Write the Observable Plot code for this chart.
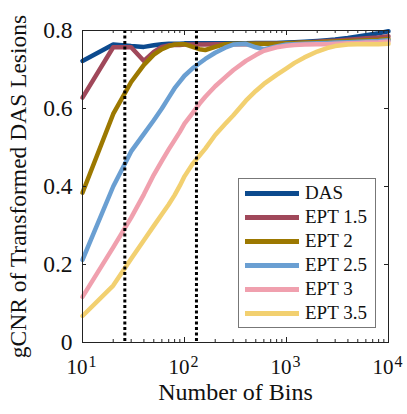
<!DOCTYPE html>
<html>
<head>
<meta charset="utf-8">
<script src="https://cdn.jsdelivr.net/npm/d3@7"></script>
<script src="https://cdn.jsdelivr.net/npm/@observablehq/plot@0.6"></script>
<style>
  html, body { margin: 0; padding: 0; background: white; }
  #wrap { position: relative; width: 407px; height: 414px; font-family: "Liberation Serif", "Times New Roman", Times, serif; }
  #wrap svg text { font-family: "Liberation Serif", "Times New Roman", Times, serif; }
  #legend { position: absolute; left: 238px; top: 178px; width: 138px; box-sizing: border-box; border: 1px solid #777; background: white; padding: 2px 0; }
  .row { height: 24px; display: flex; align-items: center; }
  .sw { width: 54px; height: 5px; margin-left: 6px; margin-right: 6px; }
  .lab { font-size: 19px; line-height: 24px; color: #111; white-space: nowrap; font-family: "Liberation Serif", "Times New Roman", Times, serif; }
</style>
</head>
<body>
<div id="wrap"><div id="legend"></div></div>
<script>
const bins = [10,20,30,40,50,60,70,80,90,100,120,140,160,200,250,300,400,500,600,800,1000,1200,1500,2000,2500,3000,4000,5000,6000,8000,10000];
const seriesNames = ["DAS","EPT 1.5","EPT 2","EPT 2.5","EPT 3","EPT 3.5"];
const colors = ["#0c4a8e","#a0485a","#9c7800","#6a9fd2","#f0a0ae","#f2d070"];
const das   = [0.722,0.764,0.760,0.758,0.762,0.765,0.766,0.766,0.766,0.767,0.767,0.767,0.767,0.767,0.767,0.767,0.767,0.768,0.768,0.768,0.769,0.770,0.771,0.773,0.775,0.777,0.781,0.785,0.788,0.793,0.798];
const ept15 = [0.628,0.757,0.757,0.722,0.745,0.758,0.762,0.763,0.763,0.764,0.764,0.764,0.764,0.765,0.765,0.765,0.765,0.766,0.766,0.766,0.767,0.768,0.769,0.771,0.773,0.774,0.776,0.778,0.780,0.782,0.785];
const ept2  = [0.384,0.586,0.668,0.712,0.738,0.752,0.760,0.764,0.765,0.765,0.758,0.752,0.750,0.758,0.765,0.766,0.766,0.766,0.766,0.766,0.767,0.768,0.769,0.770,0.771,0.772,0.773,0.774,0.775,0.776,0.778];
const ept25 = [0.212,0.400,0.490,0.535,0.570,0.600,0.628,0.652,0.669,0.684,0.703,0.716,0.727,0.743,0.756,0.764,0.766,0.757,0.752,0.759,0.764,0.765,0.766,0.767,0.768,0.769,0.770,0.771,0.772,0.773,0.775];
const ept3  = [0.117,0.244,0.320,0.380,0.430,0.466,0.495,0.519,0.540,0.561,0.588,0.612,0.630,0.657,0.680,0.698,0.722,0.737,0.748,0.757,0.761,0.763,0.764,0.765,0.765,0.766,0.767,0.768,0.769,0.770,0.772];
const ept35 = [0.068,0.146,0.215,0.262,0.299,0.329,0.354,0.378,0.402,0.426,0.458,0.479,0.497,0.532,0.560,0.582,0.620,0.645,0.663,0.686,0.703,0.717,0.731,0.746,0.755,0.760,0.764,0.765,0.765,0.765,0.766];
const dottedBins = [26, 131];
const yTicks = [0, 0.2, 0.4, 0.6, 0.8];
const xMajor = [10, 100, 1000, 10000];
const xMinor = [20,30,40,50,60,70,80,90,200,300,400,500,600,700,800,900,2000,3000,4000,5000,6000,7000,8000,9000];
const xLabel = "Number of Bins";
const yLabel = "gCNR of Transformed DAS Lesions";

const values = [das, ept15, ept2, ept25, ept3, ept35];
const data = seriesNames.flatMap((name, i) => bins.map((b, j) => ({bins: b, gcnr: values[i][j], series: name})));

const W = 407, H = 414, mL = 82, mR = 19, mT = 30, mB = 72;
const pw = W - mL - mR, ph = H - mT - mB;
const axisColor = "#222";
const serif = '"Liberation Serif", "Times New Roman", Times, serif';

const chart = Plot.plot({
  width: W, height: H,
  marginLeft: mL, marginRight: mR, marginTop: mT, marginBottom: mB,
  style: {fontFamily: serif, background: "white", color: "#111"},
  x: {type: "log", domain: [10, 10000], axis: null},
  y: {domain: [0, 0.8]},
  color: {domain: seriesNames, range: colors},
  marks: [
    Plot.line(data, {x: "bins", y: "gcnr", z: "series", stroke: "series", strokeWidth: 4.5, strokeLinejoin: "round"}),
    Plot.ruleX(dottedBins, {stroke: "black", strokeWidth: 3, strokeDasharray: "3,2.5"}),
    Plot.frame({stroke: axisColor, strokeWidth: 1}),
    Plot.tickY(yTicks, {y: d => d, insetRight: pw - 4, stroke: axisColor}),
    Plot.tickY(yTicks, {y: d => d, insetLeft: pw - 4, stroke: axisColor}),
    Plot.tickX(xMajor, {x: d => d, insetTop: ph - 5, stroke: axisColor}),
    Plot.tickX(xMajor, {x: d => d, insetBottom: ph - 5, stroke: axisColor}),
    Plot.tickX(xMinor, {x: d => d, insetTop: ph - 3, stroke: axisColor}),
    Plot.tickX(xMinor, {x: d => d, insetBottom: ph - 3, stroke: axisColor}),
    Plot.axisY(yTicks, {tickSize: 0, tickPadding: 10, fontSize: 23.5, label: null, tickFormat: d => d === 0 ? "0" : d.toFixed(1)}),
    Plot.text(xMajor, {x: d => d, text: () => "10", frameAnchor: "bottom", textAnchor: "end", dx: 5, dy: 31, fontSize: 21}),
    Plot.text(xMajor, {x: d => d, text: d => String(Math.round(Math.log10(d))), frameAnchor: "bottom", textAnchor: "start", dx: 6, dy: 24, fontSize: 16}),
    Plot.text([xLabel], {text: d => d, frameAnchor: "bottom", textAnchor: "middle", dy: 57, fontSize: 24}),
    Plot.text([yLabel], {text: d => d, frameAnchor: "left", textAnchor: "middle", rotate: -90, dx: -64, fontSize: 23.5})
  ]
});
const wrap = document.getElementById("wrap");
wrap.insertBefore(chart, wrap.firstChild);

const legend = document.getElementById("legend");
seriesNames.forEach((name, i) => {
  const row = document.createElement("div");
  row.className = "row";
  const sw = document.createElement("div");
  sw.className = "sw";
  sw.style.background = colors[i];
  const lab = document.createElement("span");
  lab.className = "lab";
  lab.textContent = name;
  row.appendChild(sw);
  row.appendChild(lab);
  legend.appendChild(row);
});
</script>
</body>
</html>
